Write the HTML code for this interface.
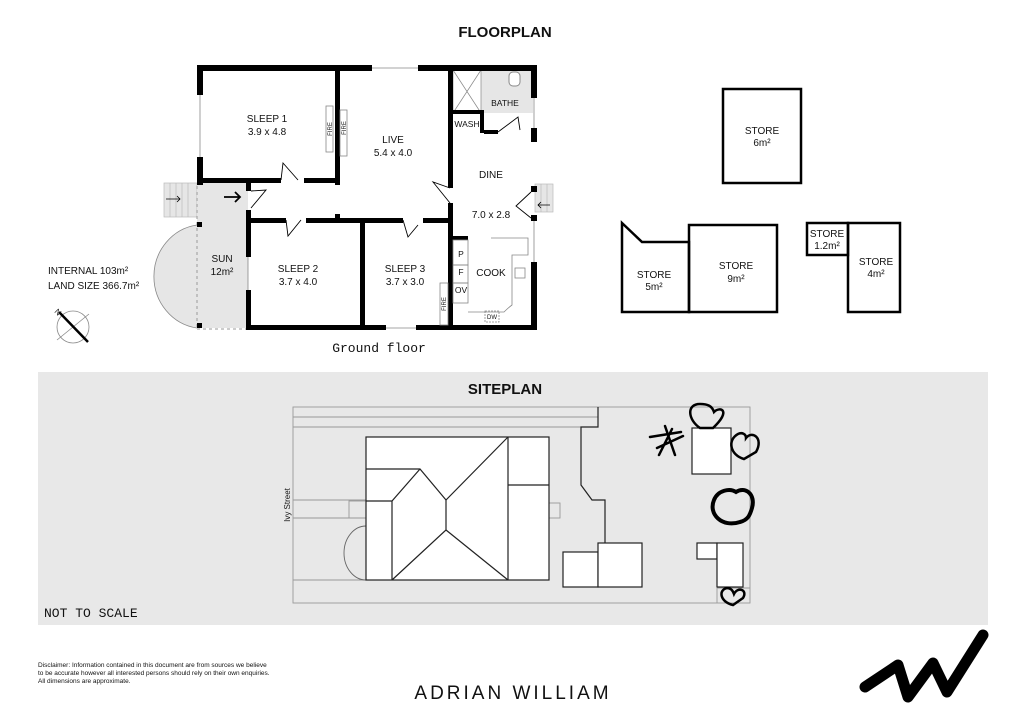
<!DOCTYPE html>
<html><head><meta charset="utf-8"><style>
body{margin:0;background:#fff;width:1024px;height:724px;overflow:hidden}
svg{display:block}
text{font-family:"Liberation Sans",sans-serif;fill:#111}
</style></head><body>
<svg width="1024" height="724" viewBox="0 0 1024 724" xmlns="http://www.w3.org/2000/svg">
<text x="505" y="37" font-size="15" font-weight="bold" text-anchor="middle">FLOORPLAN</text>

<!-- steps left -->
<g fill="#e6e6e6" stroke="#bbb" stroke-width="0.7">
<rect x="164" y="183" width="33" height="34"/>
<line x1="170" y1="183" x2="170" y2="217"/><line x1="176" y1="183" x2="176" y2="217"/><line x1="182" y1="183" x2="182" y2="217"/><line x1="188" y1="183" x2="188" y2="217"/>
<rect x="535" y="184" width="18" height="28"/>
<line x1="541" y1="184" x2="541" y2="212"/><line x1="547" y1="184" x2="547" y2="212"/>
</g>
<!-- sun -->
<path d="M197 183 H248 V328 H197 Z" fill="#e6e6e6"/>
<path d="M197 225 A50 52 0 0 0 197 328" fill="#e6e6e6" stroke="#888" stroke-width="0.8"/>
<line x1="197" y1="186" x2="197" y2="328" stroke="#999" stroke-dasharray="3,3"/>
<line x1="197" y1="329" x2="248" y2="329" stroke="#999" stroke-dasharray="3,3"/>
<rect x="197" y="222" width="5" height="5" fill="#000"/><rect x="197" y="323" width="5" height="5" fill="#000"/>
<!-- bathe grey -->
<rect x="453" y="70" width="80" height="43" fill="#e6e6e6"/>
<rect x="453" y="70" width="28" height="43" fill="#fff" stroke="#888" stroke-width="0.7"/>
<line x1="453" y1="70" x2="481" y2="113" stroke="#888" stroke-width="0.7"/><line x1="481" y1="70" x2="453" y2="113" stroke="#888" stroke-width="0.7"/>
<rect x="509" y="72" width="11" height="14" rx="4" fill="#fff" stroke="#888"/>

<!-- walls -->
<g fill="#000">
<rect x="197" y="65" width="175" height="6"/><rect x="418" y="65" width="119" height="6"/>
<rect x="197" y="65" width="6" height="30"/><rect x="197" y="157" width="6" height="28"/>
<rect x="531" y="65" width="6" height="33"/><rect x="531" y="128" width="6" height="14"/><rect x="531" y="186" width="6" height="6"/><rect x="531" y="215" width="6" height="6"/><rect x="531" y="262" width="6" height="68"/>
<rect x="248" y="325" width="138" height="5"/><rect x="416" y="325" width="95" height="5"/><rect x="511" y="325" width="26" height="5"/>
<rect x="203" y="178" width="78" height="5"/><rect x="304" y="178" width="35" height="5"/>
<rect x="335" y="65" width="5" height="120"/>
<rect x="448" y="65" width="5" height="123"/><rect x="448" y="203" width="5" height="127"/>
<rect x="248" y="218" width="38" height="5"/><rect x="306" y="218" width="97" height="5"/><rect x="423" y="218" width="30" height="5"/>
<rect x="335" y="214" width="5" height="6"/>
<rect x="360" y="218" width="5" height="112"/>
<rect x="246" y="183" width="5" height="8"/><rect x="246" y="210" width="5" height="47"/><rect x="246" y="290" width="5" height="40"/>
<rect x="453" y="110" width="30" height="4"/><rect x="480" y="110" width="4" height="23"/><rect x="484" y="130" width="14" height="4"/>
<rect x="453" y="236" width="15" height="4"/>
</g>
<!-- windows -->
<g stroke="#888" stroke-width="0.8" fill="none">
<line x1="200" y1="95" x2="200" y2="157"/><line x1="372" y1="68" x2="418" y2="68"/>
<line x1="534" y1="98" x2="534" y2="128"/><line x1="534" y1="221" x2="534" y2="262"/>
<line x1="248" y1="257" x2="248" y2="290"/><line x1="386" y1="328" x2="416" y2="328"/>
<rect x="326" y="106" width="7" height="46"/><rect x="340" y="110" width="7" height="46"/>
<rect x="440" y="283" width="8" height="42"/>
<rect x="453" y="240" width="15" height="25"/><rect x="453" y="265" width="15" height="18"/><rect x="453" y="283" width="15" height="20"/>
<path d="M491 238 H528 V255 H512 V305 Q508 308 504 312 H468"/>
<rect x="515" y="268" width="10" height="10"/>
<rect x="485" y="311" width="14" height="11" stroke-dasharray="2,1"/>
</g>
<!-- doors -->
<g stroke="#000" stroke-width="0.9" fill="none">
<path d="M281 180 L283 163 L298 180"/><path d="M251 191 L266 190 L251 208"/>
<path d="M286 220 L288 236 L301 220"/><path d="M403 220 L408 237 L418 225"/>
<path d="M450 188 L433 182 L450 203"/><path d="M531 192 L516 206 L531 218"/>
<path d="M498 132 L518 117 L520 130"/>
</g>
<g stroke="#000" stroke-width="1.8" fill="none">
<path d="M224 197 H240 M235 192 L240 197 L235 202"/>
</g>
<g stroke="#000" stroke-width="0.8" fill="none">
<path d="M166 199 H180 M177 196 L180 199 L177 202"/>
<path d="M550 205 H538 M541 202 L538 205 L541 208"/>
</g>
<!-- labels -->
<g font-size="10" text-anchor="middle">
<text x="267" y="122">SLEEP 1</text><text x="267" y="135">3.9 x 4.8</text>
<text x="393" y="143">LIVE</text><text x="393" y="156">5.4 x 4.0</text>
<text x="491" y="178">DINE</text><text x="491" y="218">7.0 x 2.8</text>
<text x="298" y="272">SLEEP 2</text><text x="298" y="285">3.7 x 4.0</text>
<text x="405" y="272">SLEEP 3</text><text x="405" y="285">3.7 x 3.0</text>
<text x="222" y="262">SUN</text><text x="222" y="275">12m²</text>
<text x="491" y="276">COOK</text>
<text x="505" y="106" font-size="8.5">BATHE</text><text x="467" y="127" font-size="8.5">WASH</text>
<text x="461" y="257" font-size="8.5">P</text><text x="461" y="275" font-size="8.5">F</text><text x="461" y="293" font-size="8.5">OV</text>
<text x="492" y="319" font-size="6">DW</text>
</g>
<g font-size="6" text-anchor="middle">
<text transform="translate(332,129) rotate(-90)">FIRE</text><text transform="translate(346,128) rotate(-90)">FIRE</text>
<text transform="translate(446,304) rotate(-90)">FIRE</text>
</g>
<text x="379" y="352" font-size="13" font-family="Liberation Mono" text-anchor="middle" style="font-family:'Liberation Mono',monospace">Ground floor</text>
<text x="48" y="274" font-size="10">INTERNAL 103m²</text>
<text x="48" y="289" font-size="10">LAND SIZE 366.7m²</text>
<circle cx="73" cy="327" r="16" fill="none" stroke="#888" stroke-width="0.8"/>
<line x1="57" y1="340" x2="89" y2="314" stroke="#888" stroke-width="0.8"/>
<line x1="59" y1="312" x2="88" y2="342" stroke="#000" stroke-width="2.5"/>
<text x="54" y="312" font-size="8" transform="rotate(45 54 312)">N</text>

<!-- stores -->
<g fill="none" stroke="#000" stroke-width="2.5">
<rect x="723" y="89" width="78" height="94"/>
<path d="M622 242 V312 H689 V242 H642 L622 223 V242 Z"/>
<rect x="689" y="225" width="88" height="87"/>
<rect x="807" y="223" width="41" height="32"/>
<rect x="848" y="223" width="52" height="89"/>
</g>
<g font-size="10" text-anchor="middle">
<text x="762" y="134">STORE</text><text x="762" y="146">6m²</text>
<text x="654" y="278">STORE</text><text x="654" y="290">5m²</text>
<text x="736" y="269">STORE</text><text x="736" y="282">9m²</text>
<text x="827" y="237">STORE</text><text x="827" y="249">1.2m²</text>
<text x="876" y="265">STORE</text><text x="876" y="277">4m²</text>
</g>

<!-- siteplan -->
<rect x="38" y="372" width="950" height="253" fill="#e8e8e8"/>
<text x="505" y="394" font-size="15" font-weight="bold" text-anchor="middle">SITEPLAN</text>
<g fill="none" stroke="#999" stroke-width="0.9">
<rect x="293" y="407" width="457" height="196"/>
<line x1="293" y1="417" x2="598" y2="417"/><line x1="293" y1="427" x2="598" y2="427"/>
<line x1="293" y1="500" x2="366" y2="500"/><line x1="293" y1="518" x2="366" y2="518"/>
<line x1="293" y1="580" x2="366" y2="580"/>
<line x1="717" y1="588" x2="750" y2="588"/><line x1="717" y1="588" x2="717" y2="603"/>
<path d="M366 526 A22 27 0 0 0 366 580" stroke="#666"/>
<rect x="349" y="501" width="17" height="17"/><rect x="549" y="503" width="11" height="15"/>
</g>
<g fill="#fff" stroke="#222" stroke-width="1.2">
<rect x="366" y="437" width="183" height="143"/>
<rect x="563" y="552" width="35" height="35"/><rect x="598" y="543" width="44" height="44"/>
<rect x="692" y="428" width="39" height="46"/>
<rect x="697" y="543" width="20" height="16"/><rect x="717" y="543" width="26" height="44"/>
</g>
<g fill="none" stroke="#222" stroke-width="1.2">
<path d="M366 469 H420 L446 500 L508 437"/>
<path d="M366 501 H392 L420 469"/>
<path d="M392 501 V580"/><path d="M446 500 V530 L392 580"/><path d="M446 530 L508 580"/>
<path d="M508 437 V580"/><path d="M508 485 H549"/>
<path d="M598 407 V427 H581 V485 L592 500 H605 V543"/>
</g>
<text transform="translate(290,505) rotate(-90)" font-size="8" text-anchor="middle">Ivy Street</text>
<g fill="none" stroke="#000" stroke-width="3.5" stroke-linecap="round">
<path d="M700 428 C688 420 686 404 700 404 C708 404 712 406 714 412 C720 406 732 410 713 428 Z" stroke-width="2.5"/>
<path d="M744 459 C730 455 727 440 738 434 C742 432 746 434 746 438 C752 430 764 438 756 452 Z" stroke-width="2.5"/>
<path d="M740 522 C722 528 708 514 714 500 C718 490 730 488 736 492 C745 486 756 494 752 508 C750 515 748 520 740 522 Z" stroke-width="4"/>
<path d="M733 605 C720 602 718 590 727 588 C731 588 733 591 734 594 C738 586 748 590 743 598 Z" stroke-width="2.5"/>
<path d="M650 437 L681 432 M665 426 L675 455 M659 455 L672 429 M657 448 L683 436" stroke-width="2.5"/>
</g>
<text x="44" y="617" font-size="13" style="font-family:'Liberation Mono',monospace">NOT TO SCALE</text>

<!-- footer -->
<g font-size="6.5" fill="#222">
<text x="38" y="667">Disclaimer: Information contained in this document are from sources we believe</text>
<text x="38" y="675">to be accurate however all interested persons should rely on their own enquiries.</text>
<text x="38" y="683">All dimensions are approximate.</text>
</g>
<text x="513" y="699" font-size="19" text-anchor="middle" letter-spacing="3">ADRIAN WILLIAM</text>
<path d="M865 687 L898 665 L908 697 L933 663 L947 692 L983 635" fill="none" stroke="#000" stroke-width="11" stroke-linecap="round" stroke-linejoin="round"/>
</svg>
</body></html>
